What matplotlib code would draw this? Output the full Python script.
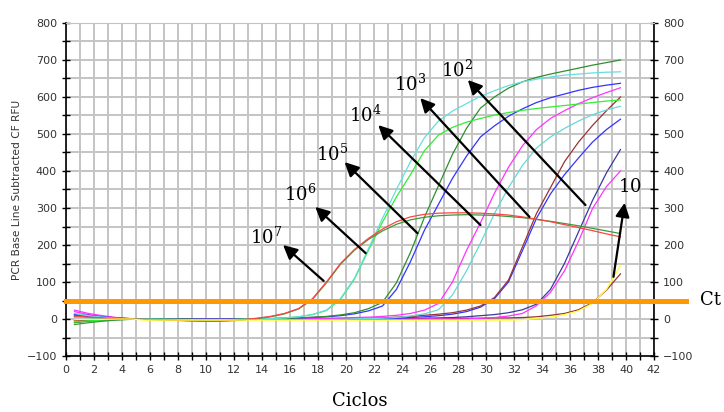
import numpy as np
import matplotlib.pyplot as plt
from matplotlib.ticker import MultipleLocator

plt.rcParams['mathtext.fontset'] = 'dejavuserif'

# ciclos de PCR
ciclos = np.arange(1, 41)

# curvas (RFU) por diluicao, duplicatas
r7 = [8, 5, 3, 1, 0, -1, -2, -3, -5, -6, -6, -4, -2, 2, 7, 15, 28, 55, 100, 150,
      188, 218, 243, 263, 276, 283, 286, 287, 287, 286, 284, 281, 276, 270, 263, 255, 247, 239, 230, 222]
g7 = [-15, -10, -6, -3, -1, -1, -2, -3, -4, -5, -6, -5, -3, 1, 6, 14, 27, 53, 98, 148,
      186, 215, 238, 256, 268, 275, 279, 281, 282, 281, 280, 277, 274, 269, 264, 258, 252, 245, 238, 231]
c6 = [15, 9, 5, 2, 0, 0, -1, -1, -2, -2, -2, -2, -1, 0, 1, 3, 6, 12, 24, 55,
      110, 190, 272, 350, 425, 490, 535, 562, 582, 602, 617, 631, 641, 648, 654, 659, 662, 665, 667, 668]
gb6 = [-8, -5, -3, -1, 0, -1, -1, -2, -2, -3, -3, -2, -1, 0, 1, 3, 6, 12, 23, 53,
       108, 186, 262, 330, 390, 455, 497, 518, 532, 542, 551, 558, 564, 569, 573, 577, 581, 585, 589, 592]
dg5 = [-10, -6, -4, -2, 0, 0, 0, 0, 0, -1, -1, -1, 0, 0, 1, 2, 3, 5, 7, 11,
       17, 28, 45, 98, 180, 275, 360, 445, 515, 570, 600, 624, 641, 653, 662, 670, 678, 686, 693, 700]
b5 = [12, 10, 6, 3, 1, 0, 0, 0, 0, 0, 0, 0, 0, 0, 1, 2, 3, 4, 6, 9,
      14, 22, 35, 80, 155, 240, 310, 380, 440, 492, 522, 548, 568, 585, 598, 608, 618, 626, 632, 637]
m4 = [24, 15, 9, 4, 1, 0, 0, 0, 0, 0, 0, 0, 0, 0, 0, 0, 0, 1, 2, 3,
      4, 5, 7, 10, 15, 24, 42, 100, 185, 260, 340, 410, 468, 512, 542, 563, 582, 598, 612, 625]
c4 = [5, 3, 2, 1, 0, 0, 0, 0, 0, 0, 0, 0, 0, 0, 0, 0, 0, 0, 0, 0,
      1, 1, 2, 4, 8, 14, 25, 65, 130, 205, 285, 355, 415, 462, 492, 515, 535, 552, 565, 575]
br3 = [-5, -3, -2, -1, 0, 0, 0, 0, 0, 0, 0, 0, 0, 0, 0, 0, 0, 0, 0, 0,
       1, 2, 3, 5, 7, 10, 13, 17, 24, 35, 58, 105, 195, 285, 355, 425, 478, 523, 563, 600]
b3 = [10, 6, 3, 1, 0, 0, 0, 0, 0, 0, 0, 0, 0, 0, 0, 0, 0, 0, 0, 0,
      0, 0, 1, 2, 4, 6, 9, 13, 20, 32, 55, 100, 185, 272, 338, 390, 435, 478, 512, 540]
n2 = [6, 4, 2, 1, 0, 0, 0, 0, 0, 0, 0, 0, 0, 0, 0, 0, 0, 0, 0, 0,
      0, 0, 0, 0, 0, 2, 3, 4, 6, 9, 12, 17, 25, 40, 80, 150, 235, 320, 395, 458]
m2 = [20, 12, 7, 3, 1, 0, 0, 0, 0, 0, 0, 0, 0, 0, 0, 0, 0, 0, 0, 0,
      0, 0, 0, 0, 0, 0, 0, 0, 0, 2, 4, 8, 15, 36, 72, 130, 210, 298, 358, 400]
br1 = [-3, -2, -1, 0, 0, 0, 0, 0, 0, 0, 0, 0, 0, 0, 0, 0, 0, 0, 0, 0,
       0, 0, 0, 0, 0, 0, 0, 1, 2, 2, 3, 3, 4, 6, 10, 15, 25, 44, 78, 122]
y1 = [-2, -1, -1, 0, 0, -3, -3, -3, -3, -3, -3, -3, -3, -3, -3, -3, -3, -3, -3, -3,
      -3, -3, -3, -3, -3, -3, -3, -3, -3, -3, -3, -3, -2, 2, 5, 12, 22, 42, 80, 145]

limiar = 50  # linha Ct

curvas = [(n2, '#3a3a9a'), (br1, '#993333'), (m2, '#ff33ff'), (b3, '#3333ff'),
          (br3, '#993333'), (c4, '#66d8d8'), (m4, '#ff33ff'), (b5, '#3333ff'),
          (dg5, '#2f8f2f'), (gb6, '#33ee33'), (c6, '#66dede'), (g7, '#3a9a3a'),
          (r7, '#ff4444'), (y1, '#ffff33')]

fig = plt.figure(figsize=(7.24, 4.12), dpi=100)
ax = fig.add_axes([0.0912, 0.1359, 0.8122, 0.8083])

for vals, cor in curvas:
    ax.plot(ciclos - 0.4, vals, color=cor, lw=0.9, zorder=3)

ax.plot([0, 44.3], [limiar, limiar], color='#ff9900', lw=3.6, clip_on=False, zorder=4)

ax.set_xlim(0, 42)
ax.set_ylim(-100, 800)
ax.xaxis.set_major_locator(MultipleLocator(2))
ax.xaxis.set_minor_locator(MultipleLocator(1))
ax.yaxis.set_major_locator(MultipleLocator(100))
ax.yaxis.set_minor_locator(MultipleLocator(50))
ax.grid(which='both', color='#c4c4c4', lw=1.4, zorder=0)
ax.set_axisbelow(True)
ax.tick_params(which='both', direction='inout', length=6, width=1, labelsize=8,
               labelcolor='#333333', right=True, labelright=True)
ax.spines['top'].set_color('#c4c4c4')
for s in ['left', 'right', 'bottom']:
    ax.spines[s].set_linewidth(1.2)

ax.set_ylabel('PCR Base Line Subtracted CF RFU', fontsize=7.7, color='#333333', labelpad=3)

# setas e diluicoes
seta = dict(arrowstyle='-|>,head_length=0.6,head_width=0.3', color='black', lw=1.6,
            mutation_scale=14, shrinkA=0, shrinkB=0)
rotulos = [(r'$10^7$', (15.5, 200), (18.4, 103), (14.3, 222)),
           (r'$10^6$', (17.8, 303), (21.4, 178), (16.7, 338)),
           (r'$10^5$', (19.9, 424), (25.1, 232), (19.0, 446)),
           (r'$10^4$', (22.3, 524), (29.6, 254), (21.4, 551)),
           (r'$10^3$', (25.3, 597), (33.1, 276), (24.6, 635)),
           (r'$10^2$', (28.7, 646), (37.1, 308), (27.9, 673)),
           (r'$10$', (39.9, 314), (39.1, 114), (40.3, 358))]
for txt, ponta, base, pos in rotulos:
    ax.annotate('', xy=ponta, xytext=base, arrowprops=seta, zorder=5)
    ax.text(pos[0], pos[1], txt, fontsize=13, family='DejaVu Serif',
            ha='center', va='center', zorder=6)

fig.text(0.982, 0.272, 'Ct', fontsize=13, family='DejaVu Serif', ha='center', va='center')
fig.text(0.497, 0.026, 'Ciclos', fontsize=13, family='DejaVu Serif', ha='center', va='center')

plt.savefig('out.png', dpi=100)
